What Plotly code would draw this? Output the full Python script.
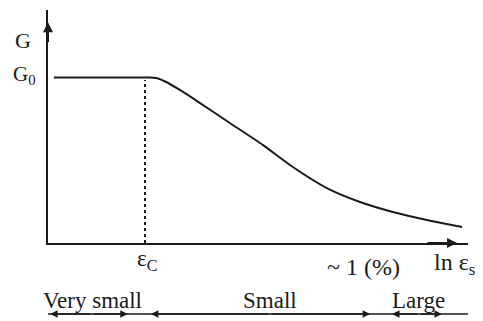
import plotly.graph_objects as go

# Shear modulus degradation curve: G vs ln(strain)
strain_log = [0.14, 1.24, 2.43, 2.60, 2.79, 3.14, 3.55, 4.33, 5.12, 5.83, 6.64, 7.43, 8.21, 9.02, 9.86]
g_ratio = [0.997, 0.997, 0.997, 0.993, 0.973, 0.922, 0.855, 0.723, 0.590, 0.458, 0.331, 0.247, 0.187, 0.139, 0.096]

eps_c = 2.31          # elastic threshold strain
one_percent = 7.5     # ~1 % strain
x_max = 10.0
y_max = 1.4036

# strain ranges: (label, start, end, label position)
ranges = [
    ("Very small", 0.05, 1.9, 1.05),
    ("Small", 2.45, 7.67, 5.29),
    ("Large", 8.19, 9.38, 8.83),
]

ink = "#1a1a1a"
serif = "Liberation Serif"

fig = go.Figure()

fig.add_trace(go.Scatter(
    x=strain_log, y=g_ratio, mode="lines",
    line=dict(color=ink, width=2, shape="spline", smoothing=0.6),
    hoverinfo="skip"))

fig.add_trace(go.Scatter(
    x=[eps_c, eps_c], y=[0, g_ratio[0] - 0.015], mode="lines",
    line=dict(color=ink, width=2, dash="dot"), hoverinfo="skip"))

annotations = [
    dict(text="G", x=-0.036, y=0.871, xref="paper", xanchor="right", font_size=22),
    dict(text="G<sub>0</sub>", x=-0.024, y=0.72, xref="paper", xanchor="right", font_size=21),
    dict(text="ε<sub>C</sub>", x=eps_c + 0.05, y=-0.075, font_size=23),
    dict(text="~ 1 (%)", x=one_percent, y=-0.105, font_size=24),
    dict(text="ln ε<sub>s</sub>", x=9.69, y=-0.088, font_size=24),
]
for label, a, b, mid in ranges:
    annotations.append(dict(text=label, x=mid, y=-0.245, font_size=23))

for ann in annotations:
    size = ann.pop("font_size")
    ann.setdefault("xref", "x")
    ann.update(yref="paper", yanchor="middle", showarrow=False,
               font=dict(family=serif, color=ink, size=size))

# range arrows below the axis
for label, a, b, mid in ranges:
    for head, tail in ((a, mid), (b, mid)):
        annotations.append(dict(
            x=head, y=-0.305, xref="x", yref="paper",
            ax=tail, ay=0, axref="x", ayref="pixel",
            showarrow=True, arrowhead=2, arrowsize=1, arrowwidth=1.5,
            arrowcolor=ink, text=""))

# axis arrowheads
annotations.append(dict(x=9.74, y=0, xref="x", yref="y", ax=9.0, ay=0,
                        axref="x", ayref="y", showarrow=True, arrowhead=2,
                        arrowsize=1, arrowwidth=2, arrowcolor=ink, text=""))
annotations.append(dict(x=0, y=1.33, xref="x", yref="y", ax=0, ay=1.2,
                        axref="x", ayref="y", showarrow=True, arrowhead=2,
                        arrowsize=1, arrowwidth=2, arrowcolor=ink, text=""))

fig.update_layout(
    width=483, height=321,
    margin=dict(l=48, r=15, t=10, b=78),
    paper_bgcolor="white", plot_bgcolor="white",
    showlegend=False,
    annotations=annotations,
    shapes=[dict(type="line", xref="paper", yref="paper",
                 x0=0, x1=1.0, y0=-0.305, y1=-0.305,
                 line=dict(color=ink, width=1.5))],
    xaxis=dict(range=[0, x_max], showline=True, linecolor=ink, linewidth=2,
               showgrid=False, zeroline=False, showticklabels=False, ticks=""),
    yaxis=dict(range=[0, y_max], showline=True, linecolor=ink, linewidth=2,
               showgrid=False, zeroline=False, showticklabels=False, ticks=""),
)

fig.write_html("out.html")
